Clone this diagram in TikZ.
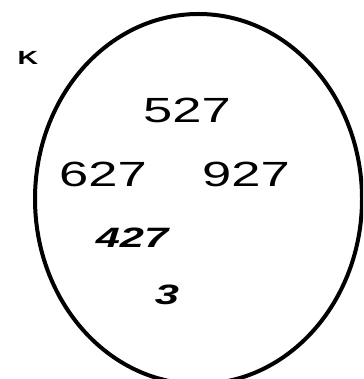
\documentclass[tikz,border=0pt]{standalone}
\usepackage{fontspec}
\setmainfont{Liberation Sans}
\begin{document}
\begin{tikzpicture}[x=1pt,y=1pt,
  num/.style={inner sep=0pt,xscale=1.5,font=\fontsize{35}{35}\selectfont},
  ital/.style={inner sep=0pt,xscale=1.55,font=\fontsize{28}{28}\selectfont\bfseries\itshape},
  setlabel/.style={inner sep=0pt,xscale=1.5,font=\fontsize{19}{19}\selectfont\bfseries}]
\useasboundingbox (0,0) rectangle (363,379);
\begin{scope}
\clip (0,0) rectangle (363,379);
\draw[line width=4pt] (198.5,180) ellipse [x radius=163.5, y radius=185];
\end{scope}
\node[setlabel] (k) at (28,321) {K};
\node[num] (a) at (187,269) {527};
\node[num] (b) at (103,205) {627};
\node[num] (c) at (246,205) {927};
\node[ital] (d) at (132,141) {427};
\node[ital] (e) at (167,84) {3};
\end{tikzpicture}
\end{document}
